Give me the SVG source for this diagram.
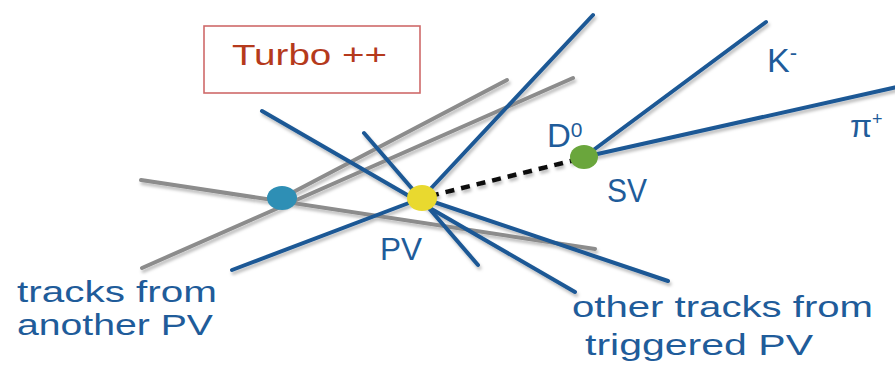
<svg xmlns="http://www.w3.org/2000/svg" width="895" height="368" viewBox="0 0 895 368">
  <defs>
    <filter id="shadow" x="-10%" y="-10%" width="120%" height="130%">
      <feDropShadow dx="1.5" dy="3" stdDeviation="1.8" flood-color="#000" flood-opacity="0.25"/>
    </filter>
  </defs>
  <style>
    .blue { stroke: #1c5895; stroke-width: 4; stroke-linecap: round; fill: none; }
    .gray { stroke: #8c8c8c; stroke-width: 4; stroke-linecap: round; fill: none; }
    .dash { stroke: #111; stroke-width: 4.5; stroke-dasharray: 9 7; fill: none; }
    .lbl { font-family: "Liberation Sans", Arial, sans-serif; fill: #1f5c9a; }
  </style>
  <rect width="895" height="368" fill="#fff"/>

  <g id="turbo">
    <rect x="204" y="26" width="216" height="67" fill="#fff" stroke="#cf6a6a" stroke-width="1.6"/>
    <text x="232" y="65" font-family="'Liberation Sans', Arial, sans-serif" font-size="30" fill="#b53a1c" textLength="155" lengthAdjust="spacingAndGlyphs">Turbo ++</text>
  </g>

  <g id="connectors" filter="url(#shadow)">
    <line class="gray" x1="141" y1="180" x2="595" y2="249"/>
    <line class="gray" x1="142" y1="268" x2="573" y2="78"/>
    <line class="gray" x1="282" y1="198" x2="507" y2="80"/>
    <line class="blue" x1="262" y1="111" x2="575" y2="292"/>
    <line class="blue" x1="364" y1="133" x2="478" y2="265"/>
    <line class="blue" x1="232" y1="270" x2="422" y2="198"/>
    <line class="blue" x1="422" y1="198" x2="593" y2="15"/>
    <line class="blue" x1="422" y1="198" x2="668" y2="281"/>
    <line class="blue" x1="584" y1="157" x2="766" y2="22"/>
    <line class="blue" x1="584" y1="157" x2="897" y2="87"/>
    <line class="dash" x1="430" y1="196" x2="575" y2="160"/>
  </g>

  <g id="otherPV">
    <ellipse cx="282" cy="198" rx="15" ry="12" fill="#2e8fb5"/>
  </g>
  <g id="PV">
    <ellipse cx="422" cy="198" rx="15" ry="13" fill="#e9d92f"/>
    <text class="lbl" x="380" y="260" font-size="32" textLength="42" lengthAdjust="spacingAndGlyphs">PV</text>
  </g>
  <g id="SV">
    <ellipse cx="584" cy="157" rx="14" ry="12" fill="#6aa63c"/>
    <text class="lbl" x="607" y="202" font-size="34" textLength="40" lengthAdjust="spacingAndGlyphs">SV</text>
    <text class="lbl" x="547" y="147" font-size="33">D<tspan font-size="21" dy="-10">0</tspan></text>
  </g>
  <g id="K">
    <text class="lbl" x="767" y="72" font-size="34">K<tspan font-size="22" dy="-12">-</tspan></text>
  </g>
  <g id="pi">
    <text class="lbl" x="850" y="137" font-size="32">π<tspan font-size="18" dy="-12">+</tspan></text>
  </g>
  <g id="labelAnother">
    <text class="lbl" x="17" y="302" font-size="29" textLength="200" lengthAdjust="spacingAndGlyphs">tracks from</text>
    <text class="lbl" x="17" y="335" font-size="29" textLength="196" lengthAdjust="spacingAndGlyphs">another PV</text>
  </g>
  <g id="labelOther">
    <text class="lbl" x="572" y="317" font-size="29" textLength="301" lengthAdjust="spacingAndGlyphs">other tracks from</text>
    <text class="lbl" x="585" y="355" font-size="29" textLength="228" lengthAdjust="spacingAndGlyphs">triggered PV</text>
  </g>
</svg>
